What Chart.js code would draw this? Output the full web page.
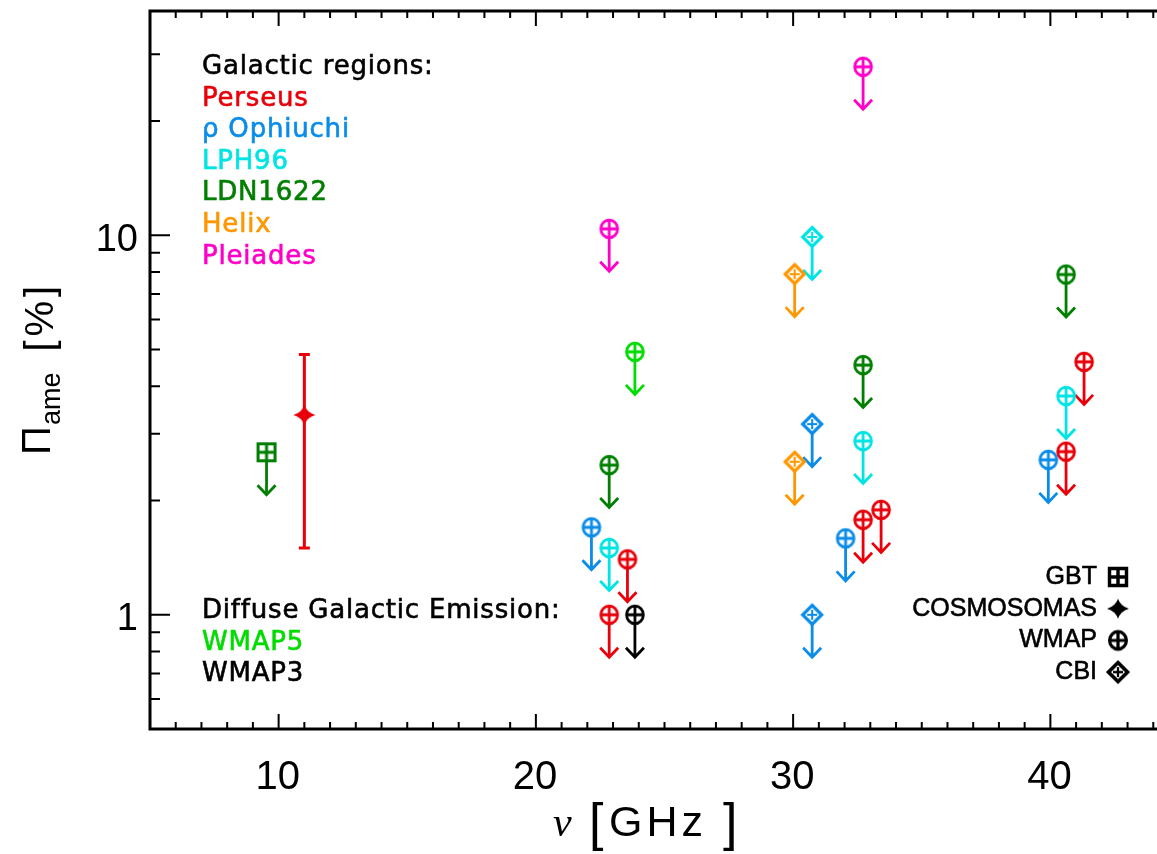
<!DOCTYPE html>
<html>
<head>
<meta charset="utf-8">
<script src="https://cdn.jsdelivr.net/npm/chart.js@4"></script>
<style>
  html, body { margin: 0; padding: 0; background: #fff; overflow: hidden; }
  #wrap { width: 1190px; height: 854px; }
</style>
</head>
<body>
<div id="wrap"><canvas id="chart" width="1190" height="854"></canvas></div>
<script>
// upper limits (GHz, %)
const perseusWmapNu = [22.85, 23.56, 32.72, 33.42, 40.61, 41.31];
const perseusWmapLim = [1.0, 1.40, 1.78, 1.89, 2.69, 4.64];
const perseusCosmoNu = [11.0];
const perseusCosmoVal = [3.36];
const perseusCosmoLo = [1.50];
const perseusCosmoHi = [4.85];
const ophWmapNu = [22.16, 32.04, 39.92];
const ophWmapLim = [1.70, 1.59, 2.56];
const ophCbiNu = [30.74, 30.74];
const ophCbiLim = [3.18, 1.0];
const lphWmapNu = [22.85, 32.72, 40.61];
const lphWmapLim = [1.50, 2.87, 3.77];
const lphCbiNu = [30.74];
const lphCbiLim = [9.9];
const ldnGbtNu = [9.53];
const ldnGbtLim = [2.68];
const ldnWmapNu = [22.85, 32.72, 40.61];
const ldnWmapLim = [2.48, 4.55, 7.88];
const helixCbiNu = [30.06, 30.06];
const helixCbiLim = [7.9, 2.53];
const pleiadesWmapNu = [22.85, 32.72];
const pleiadesWmapLim = [10.4, 27.8];
const wmap5Nu = [23.85];
const wmap5Lim = [4.93];
const wmap3Nu = [23.85];
const wmap3Lim = [1.0];

const regionNames = ['Perseus', 'ρ Ophiuchi', 'LPH96', 'LDN1622', 'Helix', 'Pleiades'];
const diffuseNames = ['WMAP5', 'WMAP3'];
const instrumentNames = ['GBT', 'COSMOSOMAS', 'WMAP', 'CBI'];
const xTickLabels = [10, 20, 30, 40];
const yTickLabels = [1, 10];

const RED = '#e8000a', BLUE = '#0a8ce8', CYAN = '#00e4e4', DKGREEN = '#007f00',
      ORANGE = '#ff9700', MAGENTA = '#ff00c8', GREEN = '#00dc00', BLACK = '#000000';
const regionColors = [RED, BLUE, CYAN, DKGREEN, ORANGE, MAGENTA];
const diffuseColors = [GREEN, BLACK];

function makeSymbol(type, color, lw) {
  const c = document.createElement('canvas');
  c.width = 30; c.height = 30;
  const g = c.getContext('2d');
  const m = 15;
  const k = lw || 1;
  g.strokeStyle = color;
  g.fillStyle = color;
  g.lineWidth = 2.8 * k;
  g.beginPath();
  if (type === 'wmap') {
    g.ellipse(m, m, 8.4, 8.8, 0, 0, Math.PI * 2);
    g.moveTo(m - 8.4, m); g.lineTo(m + 8.4, m);
    g.moveTo(m, m - 8.8); g.lineTo(m, m + 8.8);
    g.stroke();
  } else if (type === 'cbi') {
    g.lineWidth = 3.2 * k;
    g.moveTo(m, m - 9.5); g.lineTo(m + 9.5, m); g.lineTo(m, m + 9.5); g.lineTo(m - 9.5, m); g.closePath();
    g.stroke();
    g.lineWidth = 2 * k;
    g.beginPath();
    g.moveTo(m - 5, m); g.lineTo(m + 5, m);
    g.moveTo(m, m - 5); g.lineTo(m, m + 5);
    g.stroke();
  } else if (type === 'gbt') {
    g.lineWidth = 3 * k;
    g.rect(m - 8.5, m - 8.5, 17, 17);
    g.moveTo(m - 8.5, m); g.lineTo(m + 8.5, m);
    g.moveTo(m, m - 8.5); g.lineTo(m, m + 8.5);
    g.stroke();
  } else if (type === 'star') {
    g.moveTo(m, m - 10);
    g.quadraticCurveTo(m + 2.5, m - 2.5, m + 11, m);
    g.quadraticCurveTo(m + 2.5, m + 2.5, m, m + 10);
    g.quadraticCurveTo(m - 2.5, m + 2.5, m - 11, m);
    g.quadraticCurveTo(m - 2.5, m - 2.5, m, m - 10);
    g.fill();
  }
  return c;
}

function pts(xs, ys) {
  return xs.map((x, i) => ({ x: x, y: ys[i] }));
}

function limitSet(label, xs, ys, type, color) {
  return {
    label: label,
    data: pts(xs, ys),
    pointStyle: makeSymbol(type, color),
    pointRadius: 10,
    showLine: false,
    limit: true,
    color: color,
  };
}

const datasets = [
  limitSet('Perseus WMAP', perseusWmapNu, perseusWmapLim, 'wmap', RED),
  {
    label: 'Perseus COSMOSOMAS',
    data: pts(perseusCosmoNu, perseusCosmoVal),
    pointStyle: makeSymbol('star', RED),
    pointRadius: 10,
    showLine: false,
    errLo: perseusCosmoLo,
    errHi: perseusCosmoHi,
    color: RED,
  },
  limitSet('Oph WMAP', ophWmapNu, ophWmapLim, 'wmap', BLUE),
  limitSet('Oph CBI', ophCbiNu, ophCbiLim, 'cbi', BLUE),
  limitSet('LPH96 WMAP', lphWmapNu, lphWmapLim, 'wmap', CYAN),
  limitSet('LPH96 CBI', lphCbiNu, lphCbiLim, 'cbi', CYAN),
  limitSet('LDN1622 GBT', ldnGbtNu, ldnGbtLim, 'gbt', DKGREEN),
  limitSet('LDN1622 WMAP', ldnWmapNu, ldnWmapLim, 'wmap', DKGREEN),
  limitSet('Helix CBI', helixCbiNu, helixCbiLim, 'cbi', ORANGE),
  limitSet('Pleiades WMAP', pleiadesWmapNu, pleiadesWmapLim, 'wmap', MAGENTA),
  limitSet('WMAP5', wmap5Nu, wmap5Lim, 'wmap', GREEN),
  limitSet('WMAP3', wmap3Nu, wmap3Lim, 'wmap', BLACK),
];

// arrows for upper limits and the error bar, drawn under the symbols
const limitsPlugin = {
  id: 'limits',
  beforeDatasetsDraw(chart) {
    const ctx = chart.ctx;
    const ys = chart.scales.y;
    ctx.save();
    ctx.lineCap = 'butt';
    chart.data.datasets.forEach((ds, i) => {
      const meta = chart.getDatasetMeta(i);
      ctx.strokeStyle = ds.color;
      meta.data.forEach((el, j) => {
        if (ds.limit) {
          ctx.lineWidth = 2.8;
          ctx.beginPath();
          ctx.moveTo(el.x, el.y + 8);
          ctx.lineTo(el.x, el.y + 42);
          ctx.moveTo(el.x - 9, el.y + 33);
          ctx.lineTo(el.x, el.y + 42.5);
          ctx.lineTo(el.x + 9, el.y + 33);
          ctx.stroke();
        }
        if (ds.errLo) {
          const top = ys.getPixelForValue(ds.errHi[j]);
          const bot = ys.getPixelForValue(ds.errLo[j]);
          ctx.lineWidth = 3;
          ctx.beginPath();
          ctx.moveTo(el.x, top); ctx.lineTo(el.x, bot);
          ctx.moveTo(el.x - 5.5, top); ctx.lineTo(el.x + 5.5, top);
          ctx.moveTo(el.x - 5.5, bot); ctx.lineTo(el.x + 5.5, bot);
          ctx.stroke();
        }
      });
    });
    ctx.restore();
  }
};

function boldText(ctx, txt, x, y, w) {
  ctx.fillText(txt, x, y);
  ctx.lineWidth = w;
  ctx.strokeStyle = ctx.fillStyle;
  ctx.strokeText(txt, x, y);
}

// IDL style frame: box, inward ticks, labels, titles and the text legends
const framePlugin = {
  id: 'frame',
  afterDraw(chart) {
    const ctx = chart.ctx;
    const a = chart.chartArea;
    const xs = chart.scales.x, ys = chart.scales.y;
    ctx.save();
    ctx.strokeStyle = '#000';
    ctx.fillStyle = '#000';

    ctx.lineWidth = 2;
    ctx.beginPath();
    for (let v = 6; v < 45; v++) {
      const px = xs.getPixelForValue(v);
      const len = v % 10 === 0 ? 15 : 7;
      ctx.moveTo(px, a.bottom); ctx.lineTo(px, a.bottom - len);
      ctx.moveTo(px, a.top); ctx.lineTo(px, a.top + len);
    }
    const yMinor = [0.6, 0.7, 0.8, 0.9, 2, 3, 4, 5, 6, 7, 8, 9, 20, 30];
    yMinor.concat(yTickLabels).forEach(v => {
      const py = ys.getPixelForValue(v);
      const len = yTickLabels.includes(v) ? 20 : 10;
      ctx.moveTo(a.left, py); ctx.lineTo(a.left + len, py);
      ctx.moveTo(a.right, py); ctx.lineTo(a.right - len, py);
    });
    ctx.stroke();

    ctx.lineWidth = 3;
    ctx.strokeRect(a.left, a.top, a.right - a.left, a.bottom - a.top);

    ctx.font = '40px "Liberation Sans"';
    ctx.textAlign = 'center';
    ctx.textBaseline = 'alphabetic';
    xTickLabels.forEach(v => ctx.fillText(String(v), xs.getPixelForValue(v) - 1, 789));
    ctx.font = '38px "Liberation Sans"';
    ctx.textAlign = 'right';
    ctx.textBaseline = 'middle';
    yTickLabels.forEach(v => ctx.fillText(String(v), 138, ys.getPixelForValue(v) + 5));

    // x title
    ctx.textAlign = 'left';
    ctx.textBaseline = 'alphabetic';
    ctx.font = 'italic 42px "Liberation Serif"';
    ctx.fillText('ν', 553, 836);
    ctx.font = '52px "Liberation Sans"';
    ctx.fillText('[', 589, 840);
    ctx.fillText(']', 723, 840);
    ctx.font = '43px "Liberation Sans"';
    ctx.letterSpacing = '4px';
    ctx.fillText('GHz', 609, 836);
    ctx.letterSpacing = '0px';

    // y title
    ctx.save();
    ctx.translate(50, 455);
    ctx.rotate(-Math.PI / 2);
    ctx.font = '40px "Liberation Sans"';
    ctx.fillText('Π', 0, 0);
    let w = ctx.measureText('Π').width;
    ctx.font = '27px "Liberation Sans"';
    ctx.fillText('ame', w + 1, 10);
    w += ctx.measureText('ame').width + 22;
    ctx.font = '40px "Liberation Sans"';
    ctx.letterSpacing = '4px';
    ctx.fillText('[%]', w, 3);
    ctx.letterSpacing = '0px';
    ctx.restore();

    // regions legend
    ctx.font = '26px "DejaVu Sans"';
    ctx.letterSpacing = '0.8px';
    ctx.textAlign = 'left';
    ctx.fillStyle = '#000';
    boldText(ctx, 'Galactic regions:', 202, 74, 0.6);
    regionNames.forEach((n, i) => {
      ctx.fillStyle = regionColors[i];
      boldText(ctx, n, 202, 105.6 + i * 31.6, 0.6);
    });
    ctx.fillStyle = '#000';
    boldText(ctx, 'Diffuse Galactic Emission:', 202, 618, 0.6);
    diffuseNames.forEach((n, i) => {
      ctx.fillStyle = diffuseColors[i];
      boldText(ctx, n, 202, 649.6 + i * 31.6, 0.6);
    });
    ctx.letterSpacing = '0px';

    // instrument legend
    ctx.font = '25px "Liberation Sans"';
    ctx.textAlign = 'right';
    ctx.textBaseline = 'middle';
    ctx.fillStyle = '#000';
    const symTypes = ['gbt', 'star', 'wmap', 'cbi'];
    instrumentNames.forEach((n, i) => {
      const y = 577 + i * 31.7;
      boldText(ctx, n, 1097, y, 0.6);
      const s = makeSymbol(symTypes[i], '#000', 1.15);
      ctx.drawImage(s, 1118 - 15, y - 15);
    });
    ctx.restore();
  }
};

new Chart(document.getElementById('chart'), {
  type: 'scatter',
  data: { datasets: datasets },
  options: {
    responsive: false,
    animation: false,
    events: [],
    layout: { padding: { left: 150, right: 9, top: 8, bottom: 125 } },
    plugins: { legend: { display: false }, tooltip: { enabled: false } },
    scales: {
      x: { type: 'linear', min: 5, max: 45, display: false },
      y: { type: 'logarithmic', min: 0.5, max: 39, display: false },
    },
  },
  plugins: [limitsPlugin, framePlugin],
});
</script>
</body>
</html>
